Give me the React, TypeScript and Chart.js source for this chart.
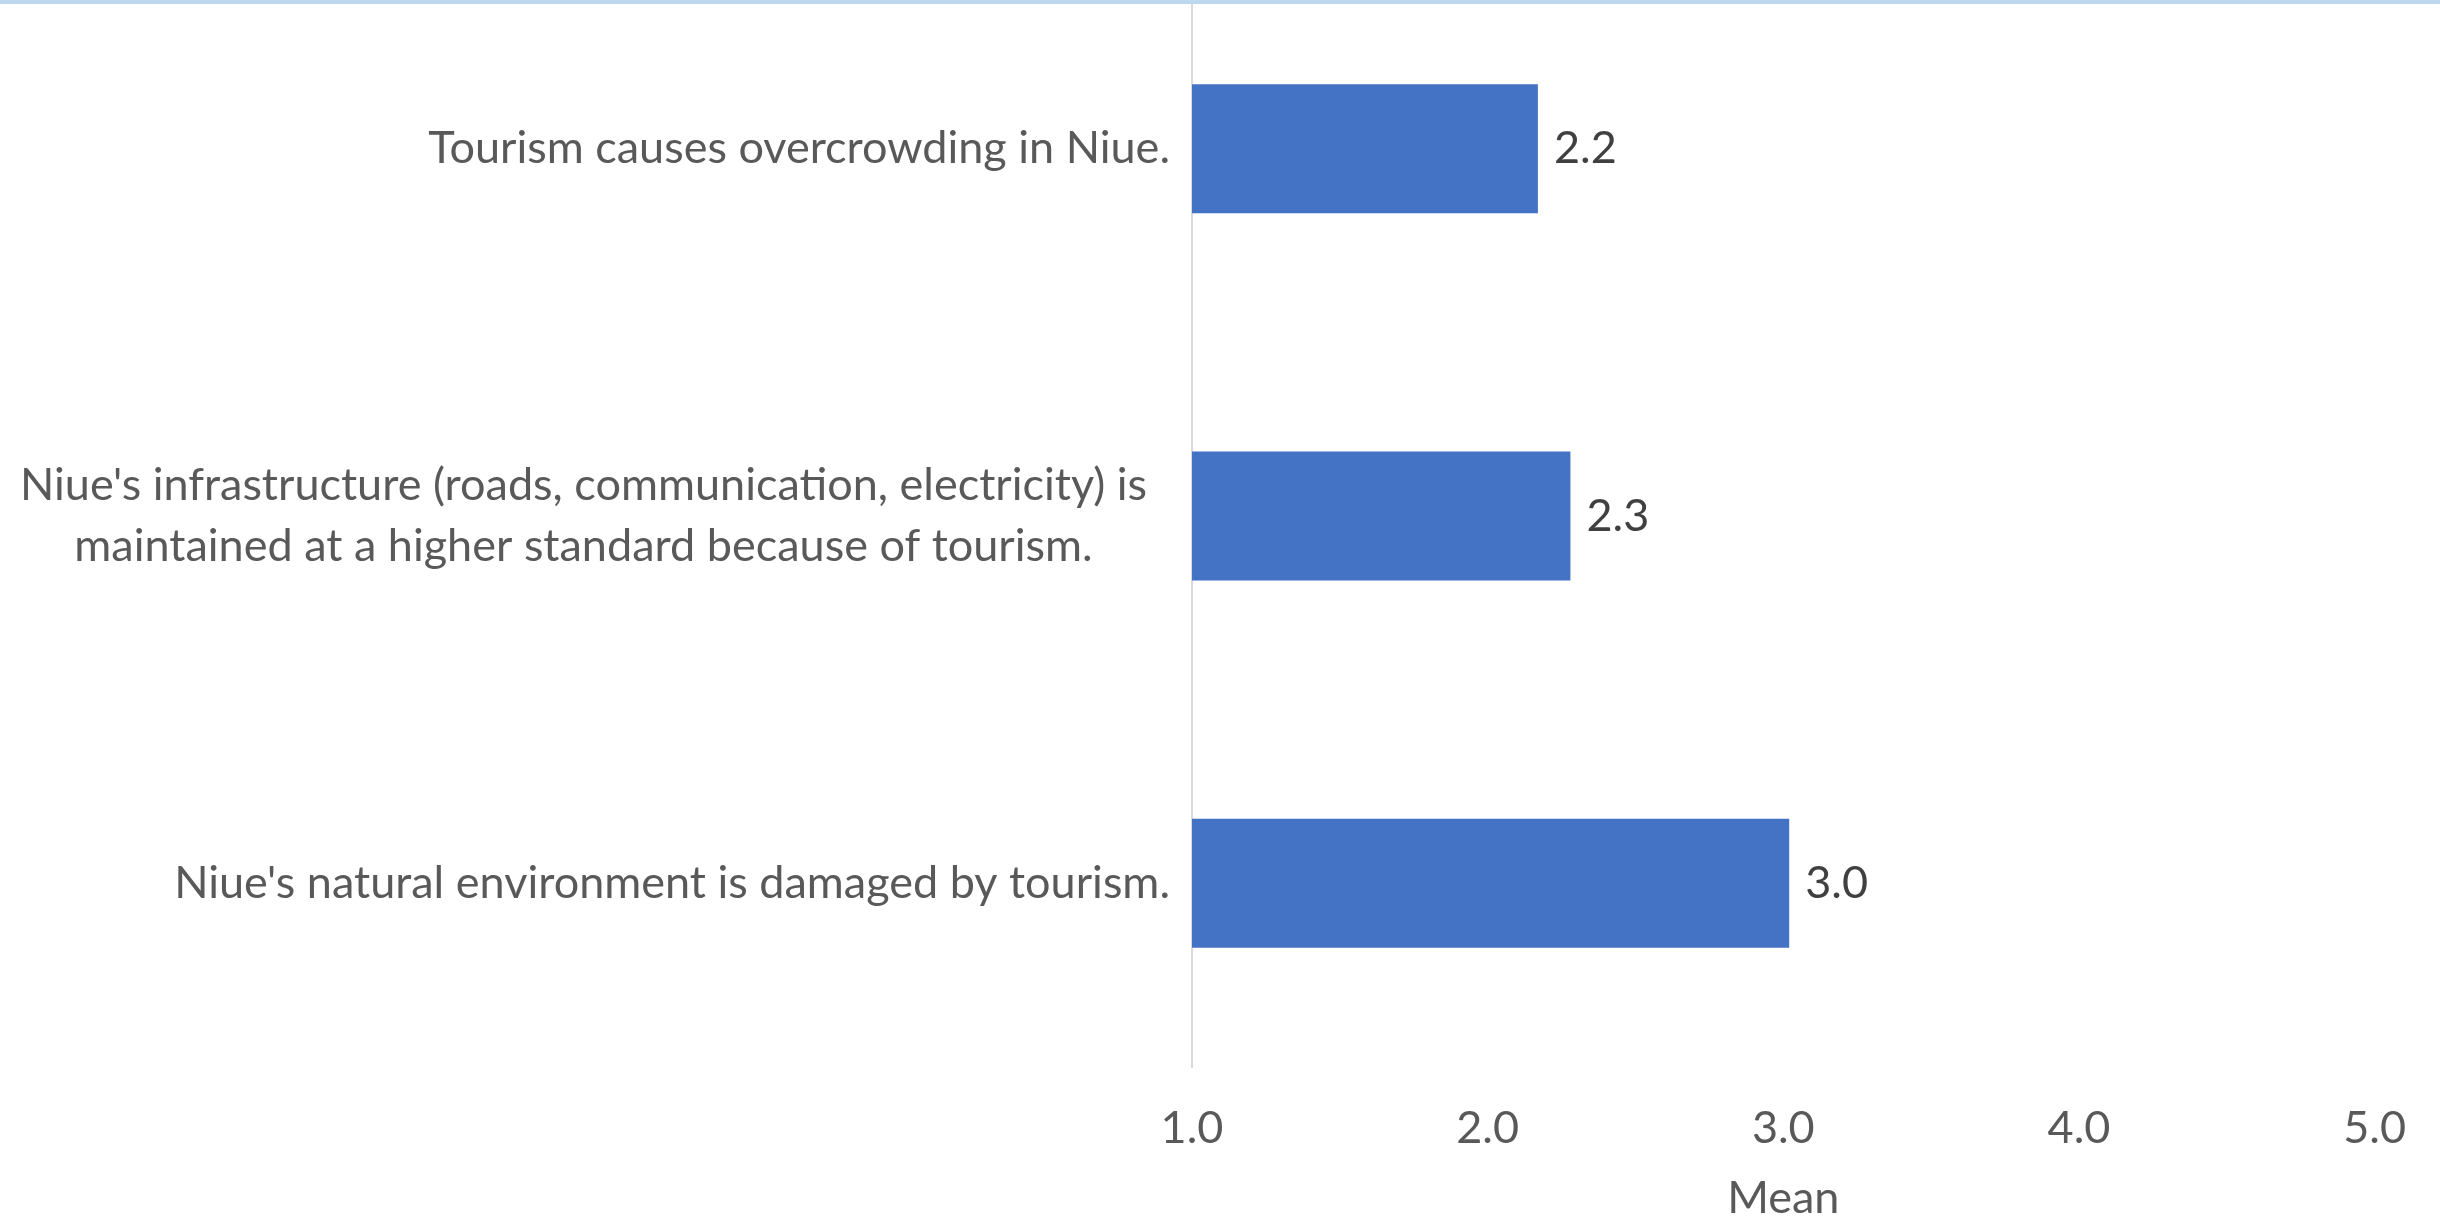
import React, { useEffect, useRef } from "react";
import { Chart, registerables } from "chart.js";

Chart.register(...registerables);

const categoryLines: string[][] = [
  ["Tourism causes overcrowding in Niue."],
  [
    "Niue's infrastructure (roads, communication, electricity) is",
    "maintained at a higher standard because of tourism.",
  ],
  ["Niue's natural environment is damaged by tourism."],
];
const meanValues: number[] = [2.17, 2.28, 3.02];
const axisMin = 1;
const axisMax = 5;
const axisStep = 1;
const axisTitle = "Mean";

const FONT = "Lato, 'Open Sans', sans-serif";
const FONT_SIZE = 45;

const labelsPlugin = {
  id: "customLabels",
  afterDraw(chart: any) {
    const ctx = chart.ctx;
    const yScale = chart.scales.y;
    const meta = chart.getDatasetMeta(0);
    ctx.save();
    ctx.font = `${FONT_SIZE}px ${FONT}`;
    // category labels: block right-aligned, lines centred in block
    ctx.fillStyle = "#595959";
    ctx.textBaseline = "middle";
    ctx.textAlign = "center";
    const lineH = 61;
    const rightX = yScale.right - 22;
    categoryLines.forEach((lines, i) => {
      const cy = yScale.getPixelForTick(i);
      const maxW = Math.max(...lines.map((l) => ctx.measureText(l).width));
      const shift = lines.length > 1 ? 23 : 0;
      const cx = rightX - shift - maxW / 2;
      const startY = cy - ((lines.length - 1) * lineH) / 2;
      lines.forEach((l, j) => ctx.fillText(l, cx, startY + j * lineH));
    });
    // data labels
    ctx.fillStyle = "#404040";
    ctx.textAlign = "left";
    meta.data.forEach((bar: any, i: number) => {
      ctx.fillText(meanValues[i].toFixed(1), bar.x + 16, bar.y);
    });
    ctx.restore();
  },
};

export default function App() {
  const ref = useRef<HTMLCanvasElement>(null);
  useEffect(() => {
    if (!ref.current) return;
    const chart = new Chart(ref.current, {
      type: "bar",
      data: {
        labels: categoryLines.map((l) => l.join(" ")),
        datasets: [
          {
            data: meanValues,
            backgroundColor: "#4472C4",
            borderWidth: 0,
            categoryPercentage: 1,
            barPercentage: 0.351,
          },
        ],
      },
      options: {
        indexAxis: "y",
        animation: false,
        responsive: false,
        devicePixelRatio: 1,
        layout: { padding: { top: 15, right: 59, left: 0, bottom: 0 } },
        plugins: {
          legend: { display: false },
          tooltip: { enabled: false },
        },
        scales: {
          x: {
            type: "linear",
            min: axisMin,
            max: axisMax,
            grid: { display: false, drawTicks: false },
            border: { display: false },
            ticks: {
              stepSize: axisStep,
              padding: 34,
              color: "#595959",
              font: { family: FONT, size: FONT_SIZE },
              callback: (v: any) => Number(v).toFixed(1),
              maxRotation: 0,
            },
            title: {
              display: true,
              text: axisTitle,
              color: "#595959",
              font: { family: FONT, size: FONT_SIZE },
              padding: 0,
            },
            afterFit: (s: any) => {
              s.height = 158;
            },
          },
          y: {
            grid: { display: false, drawTicks: false },
            border: { display: true, color: "#D9D9D9", width: 2 },
            ticks: { display: false },
            afterFit: (s: any) => {
              s.width = 1192;
            },
          },
        },
      },
      plugins: [labelsPlugin],
    });
    return () => chart.destroy();
  }, []);
  return (
    <div
      style={{
        position: "absolute",
        left: 0,
        top: 0,
        width: 2440,
        height: 1217,
        overflow: "hidden",
        background: "#ffffff",
      }}
    >
      <canvas
        ref={ref}
        width={2440}
        height={1275}
        style={{ position: "absolute", left: 0, top: -50, width: 2440, height: 1275 }}
      />
      <div
        style={{
          position: "absolute",
          left: 0,
          top: 0,
          width: 2440,
          height: 4,
          background: "#BDD7EE",
        }}
      />
    </div>
  );
}
